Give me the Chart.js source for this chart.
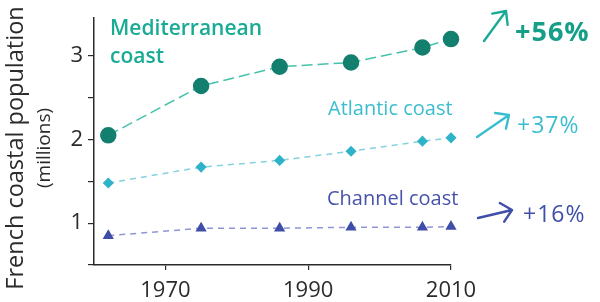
<!DOCTYPE html>
<html>
<head>
<meta charset="utf-8">
<script src="https://cdn.jsdelivr.net/npm/chart.js@4"></script>
<style>
  html, body { margin: 0; padding: 0; background: #fff; }
  #wrap { width: 600px; height: 302px; }
</style>
</head>
<body>
<div id="wrap"><canvas id="chart" width="600" height="302"></canvas></div>
<script>
// census years and population (millions)
const years = [1962, 1975, 1986, 1996, 2006, 2010];
const mediterranean = [2.05, 2.64, 2.87, 2.92, 3.10, 3.20];
const atlantic = [1.48, 1.67, 1.75, 1.86, 1.98, 2.02];
const channel = [0.85, 0.94, 0.94, 0.95, 0.95, 0.96];

const xTicks = [1970, 1990, 2010];
const yTicks = [0.5, 1, 1.5, 2, 2.5, 3];

const FONT = '"Open Sans", "DejaVu Sans", sans-serif';
const AXIS = '#2b2b2b';

function toPoints(vals) {
    return years.map((y, i) => ({ x: y, y: vals[i] }));
}

// labels, growth figures and arrows drawn on top
const annotations = {
    id: 'annotations',
    afterDraw(chart) {
        const ctx = chart.ctx;
        ctx.save();
        ctx.textBaseline = 'alphabetic';
        ctx.textAlign = 'left';

        // y axis title
        ctx.save();
        ctx.translate(23, 148);
        ctx.rotate(-Math.PI / 2);
        ctx.textAlign = 'center';
        ctx.fillStyle = AXIS;
        ctx.font = '23.5px ' + FONT;
        ctx.fillText('French coastal population', 0, 0);
        ctx.font = '19px ' + FONT;
        ctx.fillText('(millions)', 0, 27);
        ctx.restore();

        ctx.fillStyle = '#1aab95';
        ctx.font = '600 21px ' + FONT;
        ctx.fillText('Mediterranean', 110, 35);
        ctx.fillText('coast', 110, 63);

        ctx.fillStyle = '#3bbdd0';
        ctx.font = '20px ' + FONT;
        ctx.fillText('Atlantic coast', 328, 115);

        ctx.fillStyle = '#4753aa';
        ctx.fillText('Channel coast', 327, 205);

        ctx.letterSpacing = '1px';
        ctx.font = 'bold 27px ' + FONT;
        ctx.fillStyle = '#159e88';
        ctx.fillText('+56%', 515, 41);
        ctx.font = '23px ' + FONT;
        ctx.fillStyle = '#3bbdd0';
        ctx.fillText('+37%', 517, 133);
        ctx.font = '500 23px ' + FONT;
        ctx.fillStyle = '#3f4ea8';
        ctx.fillText('+16%', 523, 222);
        ctx.letterSpacing = '0px';

        arrow(ctx, 484, 41, 506, 11, '#1aab95');
        arrow(ctx, 477, 137, 509, 115, '#3bbdd0');
        arrow(ctx, 478, 218, 512, 210, '#3f4ea8');
        ctx.restore();
    }
};

function arrow(ctx, x1, y1, x2, y2, color) {
    const a = Math.atan2(y2 - y1, x2 - x1);
    const h = 14;
    ctx.save();
    ctx.strokeStyle = color;
    ctx.lineWidth = 2.4;
    ctx.lineCap = 'round';
    ctx.lineJoin = 'round';
    ctx.beginPath();
    ctx.moveTo(x1, y1);
    ctx.lineTo(x2, y2);
    ctx.moveTo(x2 - h * Math.cos(a - 0.75), y2 - h * Math.sin(a - 0.75));
    ctx.lineTo(x2, y2);
    ctx.lineTo(x2 - h * Math.cos(a + 0.75), y2 - h * Math.sin(a + 0.75));
    ctx.stroke();
    ctx.restore();
}

new Chart(document.getElementById('chart'), {
    type: 'line',
    data: {
        datasets: [
            {
                label: 'Mediterranean coast',
                data: toPoints(mediterranean),
                borderColor: '#45c2aa',
                borderWidth: 1.5,
                borderDash: [11, 5],
                pointStyle: 'circle',
                pointRadius: 7.5,
                pointBackgroundColor: '#137f6f',
                pointBorderColor: '#137f6f',
                tension: 0,
                clip: false
            },
            {
                label: 'Atlantic coast',
                data: toPoints(atlantic),
                borderColor: '#84d2de',
                borderWidth: 1.5,
                borderDash: [6, 5],
                pointStyle: 'rectRot',
                pointRadius: 4.5,
                pointBackgroundColor: '#2fb3c8',
                pointBorderColor: '#2fb3c8',
                tension: 0,
                clip: false
            },
            {
                label: 'Channel coast',
                data: toPoints(channel),
                borderColor: '#8f95d2',
                borderWidth: 1.5,
                borderDash: [6, 5],
                pointStyle: 'triangle',
                pointRadius: 5,
                pointBackgroundColor: '#3f4ea8',
                pointBorderColor: '#3f4ea8',
                tension: 0,
                clip: false
            }
        ]
    },
    options: {
        responsive: false,
        animation: false,
        layout: { padding: { top: 14, right: 149, left: 0, bottom: 0 } },
        plugins: {
            legend: { display: false },
            tooltip: { enabled: false }
        },
        scales: {
            x: {
                type: 'linear',
                min: 1960,
                max: 2010,
                afterBuildTicks(scale) {
                    scale.ticks = xTicks.map(v => ({ value: v }));
                },
                afterFit(scale) { scale.height = 37; },
                grid: { drawOnChartArea: false, drawTicks: true, tickLength: 5, color: AXIS, lineWidth: 1.2 },
                border: { display: true, color: AXIS, width: 1.5 },
                ticks: {
                    color: AXIS,
                    font: { family: FONT, size: 22 },
                    padding: 8,
                    maxRotation: 0,
                    callback: v => String(v)
                }
            },
            y: {
                type: 'linear',
                min: 0.5,
                max: 3.45,
                afterBuildTicks(scale) {
                    scale.ticks = yTicks.map(v => ({ value: v }));
                },
                afterFit(scale) { scale.width = 94; },
                grid: { drawOnChartArea: false, drawTicks: true, tickLength: 6, color: AXIS, lineWidth: 1.2 },
                border: { display: true, color: AXIS, width: 1.5 },
                ticks: {
                    color: AXIS,
                    font: { family: FONT, size: 22 },
                    padding: 5,
                    callback: v => Number.isInteger(v) ? String(v) : ''
                }
            }
        }
    },
    plugins: [annotations]
});
</script>
</body>
</html>
